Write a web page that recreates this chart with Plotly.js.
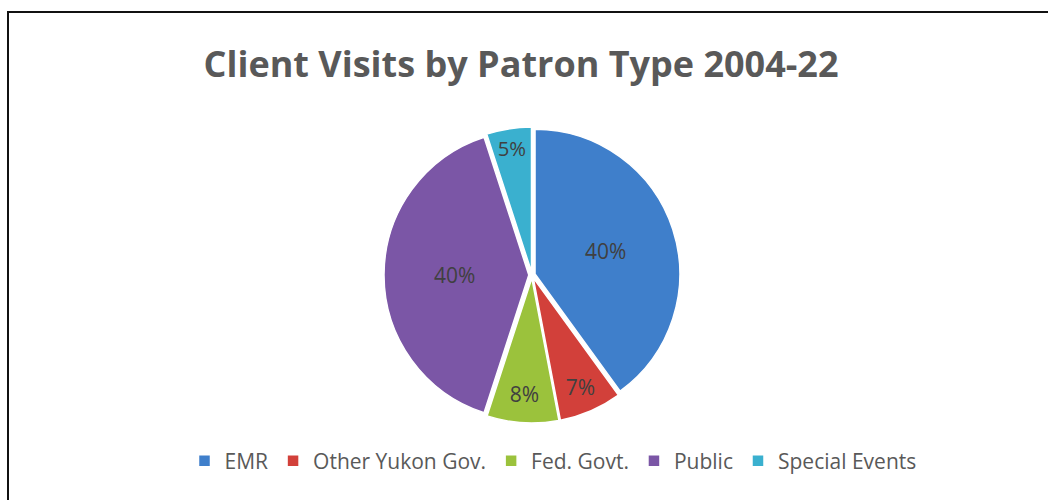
<!DOCTYPE html>
<html>
<head>
<meta charset="utf-8">
<script src="https://cdn.plot.ly/plotly-3.0.1.min.js"></script>
<style>
  html, body { margin: 0; padding: 0; background: #fff; }
  #chart { position: absolute; left: 0; top: 0; width: 1048px; height: 500px; }
  #frame { position: absolute; left: 7px; top: 11px; width: 1100px; height: 600px;
           border-left: 2px solid #111; border-top: 2px solid #111; pointer-events: none; }
</style>
</head>
<body>
<div id="chart"></div>
<div id="frame"></div>
<script>
const categories = ["EMR", "Other Yukon Gov.", "Fed. Govt.", "Public", "Special Events"];
const sharePercent = [40, 7, 8, 40, 5];
const sliceColors = ["#3F7FCB", "#D2403A", "#9BC23C", "#7B56A6", "#3AB0CF"];
const chartTitle = "Client Visits by Patron Type 2004-22";

const W = 1048, H = 500;
const cx = 532, cy = 275, halfSize = 148;
const FONT = "'Open Sans', 'Noto Sans', sans-serif";

const trace = {
  type: "pie",
  labels: categories,
  values: sharePercent,
  sort: false,
  direction: "clockwise",
  rotation: 0,
  pull: [0.022, 0.022, 0.022, 0.022, 0.022],
  marker: { colors: sliceColors, line: { color: "#ffffff", width: 1.5 } },
  textinfo: "percent",
  texttemplate: "%{percent:.0%}",
  textposition: "inside",
  insidetextorientation: "horizontal",
  insidetextfont: { family: FONT, size: 21, color: "#404040" },
  hoverinfo: "label+percent",
  domain: {
    x: [(cx - halfSize) / W, (cx + halfSize) / W],
    y: [1 - (cy + halfSize) / H, 1 - (cy - halfSize) / H]
  }
};

const layout = {
  width: W, height: H,
  margin: { l: 0, r: 0, t: 0, b: 0 },
  paper_bgcolor: "#ffffff",
  title: {
    text: "<b>" + chartTitle + "</b>",
    font: { family: FONT, size: 36, color: "#595959" },
    x: 521 / W, xanchor: "center",
    y: 1 - 64 / H, yanchor: "middle", yref: "container"
  },
  showlegend: true,
  legend: {
    orientation: "h",
    x: 553 / W, xanchor: "center",
    y: 1 - 461 / H, yanchor: "middle",
    font: { family: FONT, size: 21, color: "#595959" },
    traceorder: "normal",
    itemwidth: 30
  }
};

Plotly.newPlot("chart", [trace], layout, { displayModeBar: false, staticPlot: true });
</script>
</body>
</html>
